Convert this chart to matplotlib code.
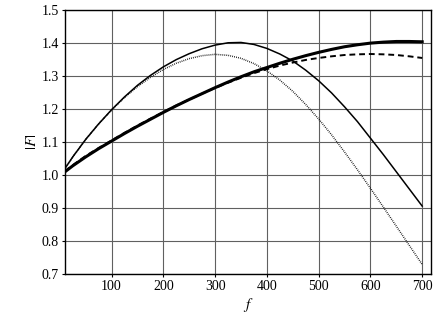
import numpy as np
import matplotlib
matplotlib.use('Agg')
import matplotlib.pyplot as plt

plt.rcParams['font.family'] = ['Liberation Serif', 'DejaVu Serif']
plt.rcParams['mathtext.fontset'] = 'stix'

# frequency samples
f = [10, 25, 50, 75, 100, 125, 150, 175, 200, 225, 250, 275, 300, 325, 350,
     375, 400, 425, 450, 475, 500, 525, 550, 575, 600, 625, 650, 675, 700]

# |F| curves
F_thin = [1.020, 1.055, 1.108, 1.155, 1.198, 1.237, 1.272, 1.302, 1.328, 1.350,
          1.368, 1.383, 1.394, 1.401, 1.402, 1.396, 1.384, 1.367, 1.346, 1.318,
          1.286, 1.249, 1.207, 1.162, 1.112, 1.062, 1.010, 0.958, 0.906]
F_dot = [1.020, 1.055, 1.108, 1.155, 1.197, 1.235, 1.268, 1.296, 1.320, 1.339,
         1.353, 1.362, 1.366, 1.363, 1.354, 1.338, 1.316, 1.288, 1.254, 1.214,
         1.170, 1.122, 1.070, 1.016, 0.960, 0.903, 0.845, 0.787, 0.729]
F_thick = [1.010, 1.028, 1.055, 1.080, 1.103, 1.126, 1.148, 1.169, 1.190, 1.210,
           1.229, 1.247, 1.265, 1.282, 1.298, 1.313, 1.326, 1.339, 1.351, 1.362,
           1.372, 1.381, 1.389, 1.395, 1.400, 1.403, 1.405, 1.405, 1.404]
F_dash = [1.012, 1.030, 1.058, 1.082, 1.105, 1.128, 1.150, 1.171, 1.191, 1.211,
          1.229, 1.247, 1.264, 1.280, 1.295, 1.309, 1.321, 1.332, 1.341, 1.349,
          1.355, 1.360, 1.364, 1.366, 1.367, 1.366, 1.364, 1.360, 1.355]

xticks = [100, 200, 300, 400, 500, 600, 700]
yticks = [0.7, 0.8, 0.9, 1.0, 1.1, 1.2, 1.3, 1.4, 1.5]

fig = plt.figure(figsize=(4.36, 3.27), dpi=100)
ax = fig.add_axes([0.149, 0.162, 0.8395, 0.807])

ax.plot(f, F_thin, color='black', lw=1.1)
ax.plot(f, F_dot, color='black', lw=1.1, linestyle=(0, (0.5, 0.8)))
ax.plot(f, F_thick, color='black', lw=2.2)
ax.plot(f, F_dash, color='black', lw=1.4, linestyle=(0, (3, 2)))

ax.set_xlim(10, 717)
ax.set_ylim(0.7, 1.5)
ax.set_xticks(xticks)
ax.set_yticks(yticks)
ax.set_yticklabels([f'{v:.1f}' for v in yticks])
ax.grid(True, color='#606060', lw=0.8)
ax.set_axisbelow(True)
ax.tick_params(direction='out', length=2.5, labelsize=10, pad=2)
for s in ax.spines.values():
    s.set_linewidth(1.0)

ax.set_xlabel(r'$f$', fontsize=11, labelpad=2)
ax.set_ylabel(r'$|F|$', fontsize=11, labelpad=2)

fig.savefig('out.png', dpi=100)
